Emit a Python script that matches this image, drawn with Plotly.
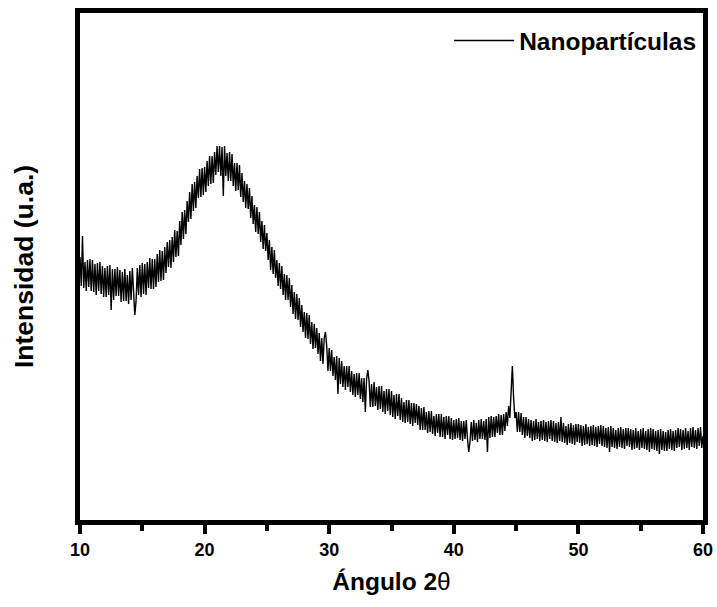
import plotly.graph_objects as go

# 2-theta grid (degrees), 0.1 deg step from 10 to 60
angle_start = 10.0
angle_step = 0.1

# Intensity (arbitrary units), 10 values per degree
intensity = [
    265, 236, 286, 234, 260, 231, 262, 235, 263, 231,   # 10
    262, 230, 258, 227, 259, 231, 260, 228, 256, 225,   # 11
    254, 225, 256, 227, 257, 212, 253, 222, 253, 226,   # 12
    255, 226, 252, 220, 250, 221, 253, 221, 247, 218,   # 13
    251, 222, 254, 222, 207, 221, 254, 227, 257, 225,   # 14
    259, 228, 258, 227, 260, 234, 264, 233, 263, 233,   # 15
    263, 235, 268, 240, 272, 241, 271, 242, 275, 249,   # 16
    280, 255, 282, 254, 285, 260, 292, 265, 291, 266,   # 17
    301, 277, 310, 283, 312, 288, 321, 300, 330, 303,   # 18
    338, 311, 340, 314, 346, 324, 353, 325, 354, 327,   # 19
    355, 330, 361, 336, 366, 338, 366, 339, 370, 347,   # 20
    376, 350, 376, 346, 375, 326, 376, 346, 369, 341,   # 21
    370, 341, 368, 336, 359, 331, 359, 332, 357, 325,   # 22
    349, 320, 341, 314, 338, 313, 334, 304, 326, 298,   # 23
    317, 290, 315, 288, 310, 280, 301, 273, 297, 271,   # 24
    289, 262, 282, 252, 275, 248, 272, 244, 262, 236,   # 25
    259, 233, 256, 227, 248, 222, 247, 222, 244, 215,   # 26
    237, 208, 230, 203, 228, 202, 224, 195, 217, 190,   # 27
    210, 184, 209, 183, 207, 178, 200, 173, 198, 174,   # 28
    194, 168, 189, 161, 184, 158, 184, 190, 176, 151,   # 29
    174, 151, 172, 146, 165, 142, 166, 128, 164, 138,   # 30
    161, 135, 156, 132, 156, 135, 156, 130, 151, 127,   # 31
    148, 125, 149, 127, 149, 123, 144, 120, 144, 110,   # 32
    143, 152, 141, 115, 138, 115, 140, 116, 135, 112,   # 33
    136, 113, 136, 110, 131, 108, 133, 111, 133, 107,   # 34
    131, 105, 127, 103, 128, 106, 128, 102, 124, 100,   # 35
    120, 99, 122, 100, 122, 98, 119, 96, 119, 99,       # 36
    118, 97, 116, 92, 114, 92, 115, 92, 110, 89,        # 37
    111, 90, 111, 88, 106, 86, 108, 89, 108, 85,        # 38
    108, 85, 105, 83, 106, 87, 106, 83, 104, 82,        # 39
    102, 83, 103, 84, 104, 82, 101, 81, 101, 83,        # 40
    102, 83, 70, 80, 100, 81, 102, 82, 99, 80,          # 41
    102, 83, 103, 83, 101, 82, 103, 70, 105, 84,        # 42
    106, 85, 105, 85, 106, 89, 108, 87, 107, 87,        # 43
    108, 91, 110, 96, 116, 104, 136, 156, 124, 104,     # 44
    110, 90, 110, 90, 109, 87, 105, 84, 105, 86,        # 45
    103, 84, 102, 81, 101, 82, 103, 83, 100, 81,        # 46
    101, 82, 102, 81, 100, 80, 101, 83, 102, 81,        # 47
    101, 80, 99, 79, 100, 81, 105, 80, 99, 79,          # 48
    96, 77, 98, 79, 99, 78, 97, 77, 98, 80,             # 49
    98, 79, 97, 76, 96, 77, 98, 78, 95, 76,             # 50
    96, 77, 97, 76, 95, 75, 96, 78, 97, 76,             # 51
    96, 75, 94, 74, 95, 70, 96, 75, 94, 74,             # 52
    92, 73, 94, 75, 95, 74, 93, 73, 94, 76,             # 53
    94, 75, 93, 72, 92, 73, 94, 74, 91, 72,             # 54
    93, 74, 94, 73, 91, 72, 93, 70, 94, 73,             # 55
    93, 72, 91, 71, 92, 68, 93, 72, 91, 71,             # 56
    90, 71, 92, 73, 93, 72, 91, 71, 92, 74,             # 57
    94, 75, 93, 72, 92, 73, 94, 74, 91, 72,             # 58
    94, 75, 95, 74, 92, 73, 94, 76, 95, 74,             # 59
    86,                                                 # 60
]
angle = [round(angle_start + i * angle_step, 2) for i in range(len(intensity))]

x_ticks = [10, 20, 30, 40, 50, 60]
series_name = "Nanopartículas"

FONT = "Liberation Sans, Arial, sans-serif"

fig = go.Figure()
fig.add_trace(go.Scatter(
    x=angle, y=intensity, mode="lines", name=series_name,
    line=dict(color="black", width=1.4),
))

fig.update_layout(
    width=717, height=607,
    margin=dict(l=80, r=14, t=13, b=87, autoexpand=False),
    paper_bgcolor="white", plot_bgcolor="white",
    font=dict(family=FONT, color="black"),
    showlegend=True,
    legend=dict(
        x=0.997, xanchor="right", y=0.99, yanchor="top",
        bgcolor="rgba(0,0,0,0)", itemwidth=60,
        font=dict(family=FONT, size=24.5, color="black", weight="bold"),
    ),
)
fig.update_xaxes(
    range=[10, 60], tickvals=x_ticks, ticktext=[str(v) for v in x_ticks],
    showline=True, linewidth=5, linecolor="black", mirror=True,
    ticks="outside", ticklen=9, tickwidth=4, tickcolor="black",
    minor=dict(dtick=5, tick0=10, ticks="outside", ticklen=6, tickwidth=4, tickcolor="black"),
    showgrid=False, zeroline=False,
    tickfont=dict(family=FONT, size=18, color="black", weight="bold"),
    title=dict(text="<b>Ángulo 2</b>θ", font=dict(family=FONT, size=24.5, color="black"), standoff=16),
)
fig.update_yaxes(
    range=[2, 509], showticklabels=False, ticks="",
    showline=True, linewidth=5, linecolor="black", mirror=True,
    showgrid=False, zeroline=False,
    title=dict(text="<b>Intensidad (u.a.)</b>", font=dict(family=FONT, size=26.5, color="black"), standoff=35),
)

fig.write_html("out.html", config={"displayModeBar": False},
               post_script="document.body.style.margin='0';")
